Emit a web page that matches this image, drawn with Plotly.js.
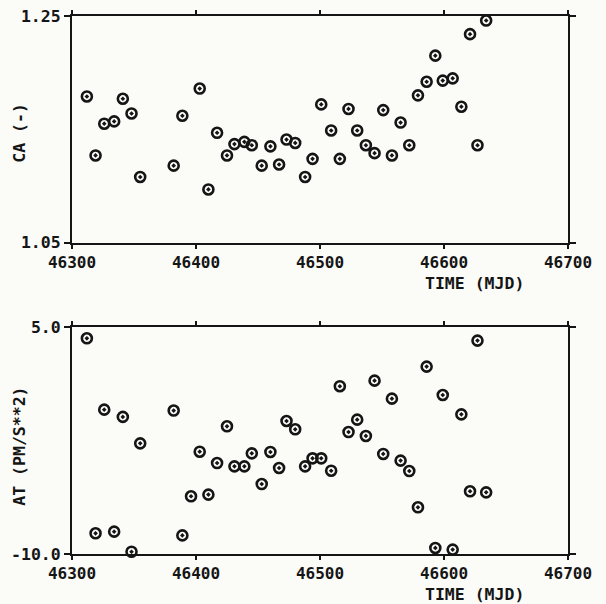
<!DOCTYPE html>
<html><head><meta charset="utf-8">
<script src="https://cdn.plot.ly/plotly-3.0.1.min.js"></script>
<style>html,body{margin:0;padding:0;background:#fbfbf8}#chart{width:606px;height:604px}</style>
</head><body><div id="chart"></div>
<script>
// Top panel: CA (-)
const timeCA = [46312,46319,46326,46334,46341,46348,46355,46382,46389,46403,46410,46417,46425,46431,46439,46445,46453,46460,46467,46473,46480,46488,46494,46501,46509,46516,46523,46530,46537,46544,46551,46558,46565,46572,46579,46586,46593,46599,46607,46614,46621,46627,46634];
const valCA = [1.179,1.127,1.155,1.157,1.177,1.164,1.108,1.118,1.162,1.186,1.097,1.147,1.127,1.137,1.139,1.136,1.118,1.135,1.119,1.141,1.138,1.108,1.124,1.172,1.149,1.124,1.168,1.149,1.136,1.129,1.167,1.127,1.156,1.136,1.180,1.192,1.215,1.193,1.195,1.170,1.234,1.136,1.246];
// Bottom panel: AT (PM/S**2)
const timeAT = [46312,46319,46326,46334,46341,46348,46355,46382,46389,46396,46403,46410,46417,46425,46431,46439,46445,46453,46460,46467,46473,46480,46488,46494,46501,46509,46516,46523,46530,46537,46544,46551,46558,46565,46572,46579,46586,46593,46599,46607,46614,46621,46627,46634];
const valAT = [4.27,-8.63,-0.45,-8.52,-0.93,-9.85,-2.68,-0.51,-8.77,-6.18,-3.23,-6.07,-3.98,-1.55,-4.2,-4.2,-3.34,-5.37,-3.25,-4.31,-1.2,-1.75,-4.2,-3.67,-3.67,-4.49,1.1,-1.93,-1.11,-2.19,1.47,-3.38,0.28,-3.82,-4.51,-6.91,2.4,-9.6,0.52,-9.71,-0.76,-5.85,4.12,-5.92];
const xTicks = [46300,46400,46500,46600,46700];
const caTicks = [1.05,1.25];
const caTickText = ['1.05','1.25'];
const atTicks = [-10,5];
const atTickText = ['-10.0','5.0'];

const ink = '#151515';
const fnt = {family:'DejaVu Sans Mono', size:16.5, color:ink, weight:'bold'};
const tfnt = {family:'DejaVu Sans Mono', size:16, color:ink, weight:'bold'};
const mk = {symbol:'circle-open-dot', size:10, color:ink, line:{width:2.6, color:ink}};

const traces = [
  {x:timeCA, y:valCA, xaxis:'x', yaxis:'y', mode:'markers', type:'scatter', marker:mk, cliponaxis:false},
  {x:timeAT, y:valAT, xaxis:'x2', yaxis:'y2', mode:'markers', type:'scatter', marker:mk, cliponaxis:false}
];

function xa(anchor, inside, overlay, labels){
  const a = {range:[46300,46700], tickvals:xTicks, ticktext:xTicks.map(String), showticklabels:labels,
    ticks: inside?'inside':'outside', ticklen: inside?6:4, tickwidth:2, tickcolor:ink,
    showline:true, linewidth:2, linecolor:ink, mirror:'ticks', showgrid:false, zeroline:false,
    anchor:anchor, tickfont:tfnt, fixedrange:true};
  if (overlay) a.overlaying = overlay;
  return a;
}
function ya(anchor, domain, range, tv, tt, inside, overlay, labels){
  const a = {range:range, tickvals:tv, ticktext:tt, showticklabels:labels,
    ticks: inside?'inside':'outside', ticklen:6, tickwidth:2, tickcolor:ink,
    showline:true, linewidth:2, linecolor:ink, mirror:'ticks', showgrid:false, zeroline:false,
    anchor:anchor, domain:domain, tickfont:fnt, fixedrange:true};
  if (overlay) a.overlaying = overlay;
  return a;
}

const topDom = [0.5786,1], botDom = [0,0.4214];
const layout = {
  width:606, height:604,
  margin:{l:72, r:38, t:16, b:50},
  paper_bgcolor:'#fbfbf8', plot_bgcolor:'#fbfbf8',
  showlegend:false,
  xaxis: xa('y', false, null, true),
  yaxis: ya('x', topDom, [1.05,1.25], caTicks, caTickText, false, null, true),
  xaxis2: xa('y2', false, null, true),
  yaxis2: ya('x2', botDom, [-10,5], atTicks, atTickText, false, null, true),
  xaxis3: xa('y', true, 'x', false),
  yaxis3: ya('x', topDom, [1.05,1.25], caTicks, caTickText, true, 'y', false),
  xaxis4: xa('y2', true, 'x2', false),
  yaxis4: ya('x2', botDom, [-10,5], atTicks, atTickText, true, 'y2', false),
  annotations: [
    {text:'TIME (MJD)', xref:'paper', yref:'paper', x:0.812, y:0.5037, showarrow:false, font:fnt, xanchor:'center', yanchor:'middle'},
    {text:'TIME (MJD)', xref:'paper', yref:'paper', x:0.812, y:-0.0755, showarrow:false, font:fnt, xanchor:'center', yanchor:'middle'},
    {text:'CA (-)', xref:'paper', yref:'paper', x:-0.1075, y:0.7825, showarrow:false, font:fnt, textangle:-90, xanchor:'center', yanchor:'middle'},
    {text:'AT (PM/S**2)', xref:'paper', yref:'paper', x:-0.1075, y:0.2007, showarrow:false, font:fnt, textangle:-90, xanchor:'center', yanchor:'middle'}
  ]
};

Plotly.newPlot('chart', traces, layout, {staticPlot:true, displayModeBar:false});
</script></body></html>
